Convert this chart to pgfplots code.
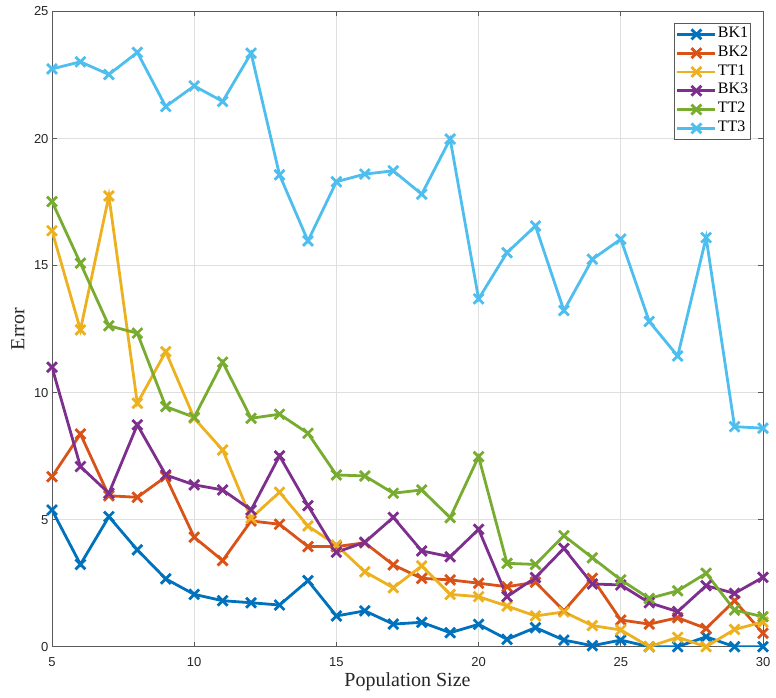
\documentclass[border=0pt]{standalone}
\usepackage{pgfplots}
\pgfplotsset{compat=1.18}
\usepackage{fontspec}
\setmainfont{Liberation Serif}
\newfontfamily\arial{Liberation Sans}
\definecolor{c1}{RGB}{0,114,189}
\definecolor{c2}{RGB}{217,83,25}
\definecolor{c3}{RGB}{237,177,32}
\definecolor{c4}{RGB}{126,47,142}
\definecolor{c5}{RGB}{119,172,48}
\definecolor{c6}{RGB}{77,190,238}
\definecolor{axc}{RGB}{38,38,38}
\definecolor{boxc}{RGB}{90,90,90}
\begin{document}
\begin{tikzpicture}
\begin{axis}[
  scale only axis, width=711pt, height=635.2pt,
  xmin=5, xmax=30, ymin=0, ymax=25,
  xtick={5,10,...,30}, ytick={0,5,...,25},
  grid=major, major grid style={color=gray!25, line width=0.7pt},
  axis line style={color=boxc, line width=0.9pt},
  tick style={color=boxc, line width=0.9pt}, major tick length=5pt,
  tick align=inside, tick pos=both,
  tick label style={font=\arial\fontsize{13}{13}\selectfont, color=axc},
  /pgf/number format/assume math mode=true,
  xticklabel style={yshift=-7pt},
  xlabel={Population Size}, ylabel={Error},
  label style={font=\fontsize{20}{20}\selectfont, color=axc},
  xlabel style={at={(axis description cs:0.5,0)}, anchor=center, yshift=-35pt},
  ylabel style={at={(axis description cs:-0.0478,0.5)}, anchor=center},
  every axis plot/.append style={line width=2.8pt, mark=x, mark size=7pt, mark options={solid}},
  legend style={at={(axis description cs:1,1)}, anchor=north east, xshift=-12pt, yshift=-11.5pt,
    font=\fontsize{16}{16}\selectfont, draw=boxc, line width=0.9pt, fill=white,
    row sep=0pt, inner sep=1.5pt, nodes={inner sep=1pt, text height=11.5pt, text depth=5.3pt}},
  legend cell align=left,
  legend image code/.code={\draw[mark repeat=2,mark phase=2] plot coordinates {(0pt,0pt)(19pt,0pt)(38pt,0pt)};},
]
\addplot[color=c1] coordinates {(5,5.38)(6,3.24)(7,5.12)(8,3.81)(9,2.67)(10,2.06)(11,1.81)(12,1.73)(13,1.64)(14,2.60)(15,1.21)(16,1.41)(17,0.89)(18,0.96)(19,0.55)(20,0.88)(21,0.29)(22,0.75)(23,0.26)(24,0.04)(25,0.26)(26,0)(27,0)(28,0.39)(29,0)(30,0)};
\addlegendentry{BK1}
\addplot[color=c2] coordinates {(5,6.69)(6,8.37)(7,5.94)(8,5.88)(9,6.69)(10,4.31)(11,3.39)(12,4.95)(13,4.82)(14,3.94)(15,3.94)(16,4.09)(17,3.22)(18,2.69)(19,2.63)(20,2.50)(21,2.36)(22,2.54)(23,1.41)(24,2.69)(25,1.05)(26,0.89)(27,1.14)(28,0.72)(29,1.81)(30,0.53)};
\addlegendentry{BK2}
\addplot[color=c3] coordinates {(5,16.37)(6,12.47)(7,17.74)(8,9.58)(9,11.61)(10,8.99)(11,7.74)(12,5.06)(13,6.08)(14,4.75)(15,4.00)(16,2.95)(17,2.32)(18,3.18)(19,2.06)(20,1.97)(21,1.60)(22,1.21)(23,1.37)(24,0.83)(25,0.66)(26,0)(27,0.37)(28,0)(29,0.68)(30,0.97)};
\addlegendentry{TT1}
\addplot[color=c4] coordinates {(5,11.00)(6,7.09)(7,6.04)(8,8.73)(9,6.76)(10,6.37)(11,6.17)(12,5.38)(13,7.51)(14,5.55)(15,3.72)(16,4.11)(17,5.09)(18,3.77)(19,3.54)(20,4.62)(21,1.97)(22,2.72)(23,3.87)(24,2.47)(25,2.43)(26,1.73)(27,1.38)(28,2.40)(29,2.10)(30,2.73)};
\addlegendentry{BK3}
\addplot[color=c5] coordinates {(5,17.52)(6,15.09)(7,12.63)(8,12.34)(9,9.45)(10,9.03)(11,11.20)(12,8.99)(13,9.15)(14,8.40)(15,6.76)(16,6.72)(17,6.04)(18,6.17)(19,5.08)(20,7.48)(21,3.28)(22,3.24)(23,4.37)(24,3.50)(25,2.63)(26,1.90)(27,2.20)(28,2.89)(29,1.44)(30,1.18)};
\addlegendentry{TT2}
\addplot[color=c6] coordinates {(5,22.74)(6,23.02)(7,22.52)(8,23.39)(9,21.26)(10,22.07)(11,21.46)(12,23.36)(13,18.57)(14,15.97)(15,18.30)(16,18.60)(17,18.73)(18,17.81)(19,19.98)(20,13.69)(21,15.51)(22,16.56)(23,13.23)(24,15.25)(25,16.04)(26,12.80)(27,11.44)(28,16.10)(29,8.66)(30,8.60)};
\addlegendentry{TT3}
\end{axis}
\pgfresetboundingbox
\path ([shift={(-52pt,-51.3pt)}]current axis.south west) rectangle ([shift={(13pt,11.5pt)}]current axis.north east);
\end{tikzpicture}
\end{document}
